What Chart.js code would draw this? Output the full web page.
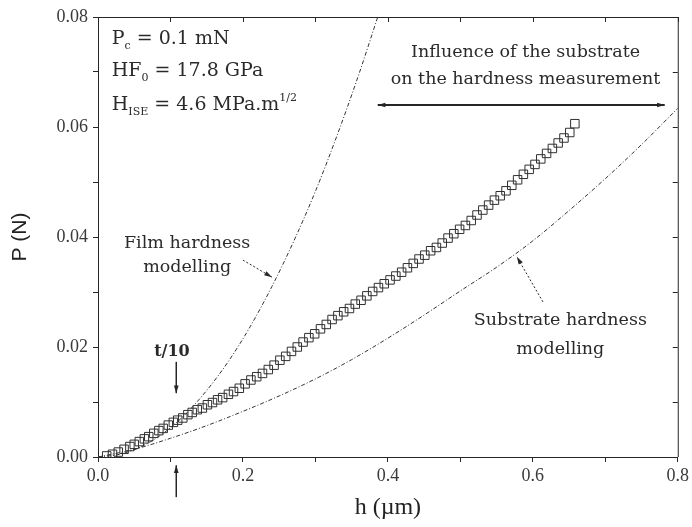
<!DOCTYPE html>
<html>
<head>
<meta charset="utf-8">
<script src="https://cdn.jsdelivr.net/npm/chart.js@4.4.1/dist/chart.umd.min.js"></script>
<style>
	html, body { margin: 0; padding: 0; background: #fff; }
	#wrap { width: 692px; height: 527px; }
</style>
</head>
<body>
<div id="wrap"><canvas id="graph"></canvas></div>
<script>
// Measured loading curve: depth h (um) and load P (N)
var depth = [0.012, 0.02, 0.028, 0.036, 0.044, 0.05, 0.057, 0.064, 0.07, 0.077, 0.084, 0.09, 0.097, 0.104, 0.11, 0.117, 0.124, 0.13, 0.137, 0.144, 0.151, 0.158, 0.165, 0.172, 0.18, 0.187, 0.195, 0.203, 0.211, 0.219, 0.227, 0.235, 0.243, 0.251, 0.259, 0.267, 0.275, 0.283, 0.291, 0.299, 0.307, 0.315, 0.323, 0.331, 0.339, 0.347, 0.355, 0.363, 0.371, 0.379, 0.387, 0.395, 0.403, 0.411, 0.419, 0.427, 0.435, 0.443, 0.451, 0.459, 0.467, 0.475, 0.483, 0.491, 0.499, 0.507, 0.515, 0.523, 0.531, 0.539, 0.547, 0.555, 0.563, 0.571, 0.579, 0.587, 0.595, 0.603, 0.611, 0.619, 0.627, 0.635, 0.643, 0.651, 0.658];
var load = [0.0002, 0.0005, 0.0009, 0.0014, 0.0019, 0.0023, 0.0028, 0.0033, 0.0037, 0.0043, 0.0048, 0.0052, 0.0058, 0.0063, 0.0067, 0.0071, 0.0077, 0.0081, 0.0086, 0.0089, 0.0095, 0.0099, 0.0104, 0.0108, 0.0114, 0.0119, 0.0125, 0.0133, 0.0140, 0.0146, 0.0152, 0.0159, 0.0167, 0.0176, 0.0183, 0.0192, 0.0200, 0.0209, 0.0217, 0.0224, 0.0233, 0.0241, 0.0250, 0.0257, 0.0264, 0.0270, 0.0278, 0.0285, 0.0293, 0.0301, 0.0308, 0.0315, 0.0322, 0.0329, 0.0336, 0.0344, 0.0352, 0.0360, 0.0367, 0.0375, 0.0381, 0.0389, 0.0398, 0.0406, 0.0414, 0.0421, 0.0430, 0.0440, 0.0449, 0.0458, 0.0467, 0.0475, 0.0484, 0.0494, 0.0504, 0.0514, 0.0523, 0.0532, 0.0542, 0.0552, 0.0561, 0.0571, 0.0580, 0.0590, 0.0606];

// Film hardness modelling curve
var film_h = [0, 0.03, 0.06, 0.09, 0.12, 0.15, 0.18, 0.21, 0.24, 0.27, 0.3, 0.33, 0.36, 0.386];
var film_p = [0, 0.0005, 0.0019, 0.0043, 0.0077, 0.0121, 0.0174, 0.0237, 0.031, 0.0392, 0.0483, 0.0585, 0.0696, 0.080];

// Substrate hardness modelling curve
var sub_h = [0, 0.05, 0.1, 0.15, 0.2, 0.25, 0.3, 0.35, 0.4, 0.45, 0.5, 0.55, 0.6, 0.65, 0.7, 0.75, 0.8];
var sub_p = [0, 0.0014, 0.0034, 0.0057, 0.0083, 0.0111, 0.0142, 0.0177, 0.0216, 0.0258, 0.0302, 0.0345, 0.0393, 0.0448, 0.0506, 0.0568, 0.0634];

// Labelled ticks (minor ticks sit between them)
var x_labels = [0.0, 0.2, 0.4, 0.6, 0.8];
var y_labels = [0.00, 0.02, 0.04, 0.06, 0.08];

var ink = "#262626";
var serif = "'DejaVu Serif', serif";

function toPoints(xs, ys) {
	return xs.map((x, i) => ({ x: x, y: ys[i] }));
}
function isLabelled(list, v) {
	return list.some(l => Math.abs(l - v) < 1e-6);
}

// Annotation texts placed in data units (h, P)
var notes = [
	{ parts: [["P"], ["c", "sub"], [" = 0.1 mN"]], h: 0.019, p: 0.0760, size: 19, align: "left" },
	{ parts: [["HF"], ["0", "sub"], [" = 17.8 GPa"]], h: 0.019, p: 0.0701, size: 19, align: "left" },
	{ parts: [["H"], ["ISE", "sub"], [" = 4.6 MPa.m"], ["1/2", "sup"]], h: 0.019, p: 0.0640, size: 19, align: "left" },
	{ parts: [["Influence of the substrate"]], h: 0.590, p: 0.0736, size: 17.5, align: "center" },
	{ parts: [["on the hardness measurement"]], h: 0.590, p: 0.0686, size: 17.5, align: "center" },
	{ parts: [["Film hardness"]], h: 0.123, p: 0.0389, size: 17.5, align: "center" },
	{ parts: [["modelling"]], h: 0.123, p: 0.0345, size: 17.5, align: "center" },
	{ parts: [["Substrate hardness"]], h: 0.638, p: 0.0249, size: 17.5, align: "center" },
	{ parts: [["modelling"]], h: 0.638, p: 0.0196, size: 17.5, align: "center" },
	{ parts: [["t/10"]], h: 0.102, p: 0.0192, size: 16, align: "center", bold: true }
];

// Arrows: from (h1,p1) to (h2,p2)
var arrows = [
	{ h1: 0.386, p1: 0.0640, h2: 0.782, p2: 0.0640, both: true, width: 2, dash: [] },
	{ h1: 0.200, p1: 0.0358, h2: 0.240, p2: 0.0327, both: false, width: 1, dash: [2, 2] },
	{ h1: 0.614, p1: 0.0282, h2: 0.578, p2: 0.0364, both: false, width: 1, dash: [2, 2] },
	{ h1: 0.108, p1: 0.0173, h2: 0.108, p2: 0.0116, both: false, width: 1.5, dash: [] },
	{ h1: 0.108, p1: -0.0073, h2: 0.108, p2: -0.0015, both: false, width: 1.5, dash: [] }
];

function drawRich(ctx, parts, x, y, size, align, bold) {
	var weight = bold ? "bold " : "";
	var small = Math.round(size * 0.6);
	var total = 0;
	parts.forEach(p => {
		ctx.font = weight + (p[1] ? small : size) + "px " + serif;
		total += ctx.measureText(p[0]).width;
	});
	var cx = align === "center" ? x - total / 2 : x;
	ctx.textBaseline = "middle";
	ctx.textAlign = "left";
	parts.forEach(p => {
		var dy = 0;
		if (p[1] === "sub") dy = size * 0.35;
		if (p[1] === "sup") dy = -size * 0.35;
		ctx.font = weight + (p[1] ? small : size) + "px " + serif;
		ctx.fillText(p[0], cx, y + dy);
		cx += ctx.measureText(p[0]).width;
	});
}

function head(ctx, x1, y1, x2, y2, len) {
	var ang = Math.atan2(y2 - y1, x2 - x1);
	ctx.beginPath();
	ctx.moveTo(x2, y2);
	ctx.lineTo(x2 - len * Math.cos(ang - 0.3), y2 - len * Math.sin(ang - 0.3));
	ctx.lineTo(x2 - len * Math.cos(ang + 0.3), y2 - len * Math.sin(ang + 0.3));
	ctx.closePath();
	ctx.fill();
}

var extras = {
	id: "extras",
	afterDatasetsDraw(chart) {
		var ctx = chart.ctx;
		var xs = chart.scales.x, ys = chart.scales.y, a = chart.chartArea;
		ctx.save();
		ctx.strokeStyle = ink;
		ctx.fillStyle = ink;
		ctx.lineWidth = 1;
		// frame on top and right, with inward ticks
		ctx.beginPath();
		ctx.moveTo(a.left, a.top + 0.5);
		ctx.lineTo(a.right + 0.5, a.top + 0.5);
		ctx.lineTo(a.right + 0.5, a.bottom);
		ctx.stroke();
		ctx.beginPath();
		xs.ticks.forEach(t => {
			var px = Math.round(xs.getPixelForValue(t.value)) + 0.5;
			ctx.moveTo(px, a.top);
			ctx.lineTo(px, a.top + 5);
		});
		ys.ticks.forEach(t => {
			var py = Math.round(ys.getPixelForValue(t.value)) + 0.5;
			ctx.moveTo(a.right, py);
			ctx.lineTo(a.right - 5, py);
		});
		ctx.stroke();

		// arrows
		arrows.forEach(r => {
			var x1 = xs.getPixelForValue(r.h1), y1 = ys.getPixelForValue(r.p1);
			var x2 = xs.getPixelForValue(r.h2), y2 = ys.getPixelForValue(r.p2);
			ctx.lineWidth = r.width;
			ctx.setLineDash(r.dash);
			ctx.beginPath();
			ctx.moveTo(x1, y1);
			ctx.lineTo(x2, y2);
			ctx.stroke();
			ctx.setLineDash([]);
			head(ctx, x1, y1, x2, y2, 8);
			if (r.both) head(ctx, x2, y2, x1, y1, 8);
		});

		// texts
		ctx.fillStyle = "#2a2a2a";
		notes.forEach(n => {
			drawRich(ctx, n.parts, xs.getPixelForValue(n.h), ys.getPixelForValue(n.p), n.size, n.align, n.bold);
		});
		ctx.restore();
	}
};

var curveStyle = {
	showLine: true,
	pointRadius: 0,
	borderColor: "#333",
	borderWidth: 1,
	borderDash: [4, 2, 1, 2],
	cubicInterpolationMode: "monotone",
	fill: false
};

var canvas = document.getElementById("graph").getContext("2d");
var graph = new Chart(canvas, {
	type: "scatter",
	data: {
		datasets: [
			{
				label: "Measured",
				data: toPoints(depth, load),
				pointStyle: "rect",
				pointRadius: 6,
				borderColor: "#303030",
				backgroundColor: "rgba(0,0,0,0)",
				borderWidth: 1
			},
			Object.assign({ label: "Film hardness modelling", data: toPoints(film_h, film_p) }, curveStyle),
			Object.assign({ label: "Substrate hardness modelling", data: toPoints(sub_h, sub_p) }, curveStyle)
		]
	},
	options: {
		responsive: true,
		maintainAspectRatio: false,
		animation: false,
		layout: { padding: { top: 17, right: 14, left: 0, bottom: 0 } },
		plugins: {
			legend: { display: false },
			tooltip: { enabled: false }
		},
		scales: {
			x: {
				type: "linear",
				min: 0,
				max: 0.8,
				afterFit: s => { s.height = 70; },
				ticks: {
					stepSize: 0.1,
					autoSkip: false,
					maxRotation: 0,
					padding: 3,
					color: "#3a3a3a",
					font: { family: "'Liberation Serif', serif", size: 18 },
					callback: v => isLabelled(x_labels, v) ? v.toFixed(1) : ""
				},
				grid: { drawOnChartArea: false, tickLength: 5, color: ink },
				border: { color: ink, width: 1 },
				title: {
					display: true,
					text: "h (\u00b5m)",
					color: "#222",
					font: { family: "'Liberation Serif', serif", size: 24 },
					padding: { top: 0, bottom: 5 }
				}
			},
			y: {
				type: "linear",
				min: 0,
				max: 0.08,
				afterFit: s => { s.width = 98; },
				ticks: {
					stepSize: 0.01,
					autoSkip: false,
					padding: 5,
					color: "#3a3a3a",
					font: { family: "'Liberation Serif', serif", size: 18 },
					callback: v => isLabelled(y_labels, v) ? v.toFixed(2) : ""
				},
				grid: { drawOnChartArea: false, tickLength: 5, color: ink },
				border: { color: ink, width: 1 },
				title: {
					display: true,
					text: "P (N)",
					color: "#222",
					font: { family: "'Liberation Sans', sans-serif", size: 21 },
					padding: { top: 8, bottom: 0 }
				}
			}
		}
	},
	plugins: [extras]
});
</script>
</body>
</html>
